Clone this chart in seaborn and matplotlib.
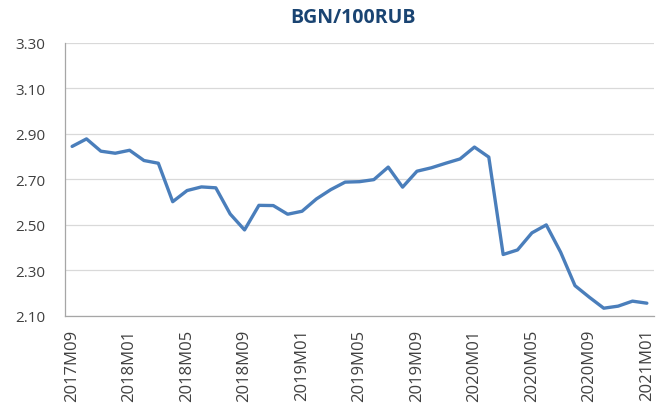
import matplotlib
matplotlib.use("Agg")
import matplotlib.pyplot as plt
import numpy as np
import pandas as pd
import seaborn as sns

# Monthly BGN per 100 RUB, 2017M09 .. 2021M01
months = [
    "2017M09", "2017M10", "2017M11", "2017M12",
    "2018M01", "2018M02", "2018M03", "2018M04", "2018M05", "2018M06",
    "2018M07", "2018M08", "2018M09", "2018M10", "2018M11", "2018M12",
    "2019M01", "2019M02", "2019M03", "2019M04", "2019M05", "2019M06",
    "2019M07", "2019M08", "2019M09", "2019M10", "2019M11", "2019M12",
    "2020M01", "2020M02", "2020M03", "2020M04", "2020M05", "2020M06",
    "2020M07", "2020M08", "2020M09", "2020M10", "2020M11", "2020M12",
    "2021M01",
]
rate = [
    2.845, 2.878, 2.824, 2.815,
    2.828, 2.783, 2.771, 2.602, 2.651, 2.667,
    2.663, 2.548, 2.478, 2.586, 2.585, 2.547,
    2.560, 2.614, 2.655, 2.688, 2.690, 2.699,
    2.754, 2.666, 2.736, 2.751, 2.771, 2.790,
    2.842, 2.798, 2.370, 2.390, 2.465, 2.500,
    2.380, 2.233, 2.182, 2.134, 2.143, 2.165,
    2.156,
]
y_ticks = [2.10, 2.30, 2.50, 2.70, 2.90, 3.10, 3.30]
title = "BGN/100RUB"

sns.set_style("white")
plt.rcParams["font.family"] = ["Open Sans", "DejaVu Sans"]

df = pd.DataFrame({"pos": np.arange(len(months)), "month": months, "rate": rate})

fig = plt.figure(figsize=(6.56, 4.10), dpi=100)
ax = fig.add_axes([0.099, 0.227, 0.898, 0.666])

sns.lineplot(data=df, x="pos", y="rate", ax=ax, color="#4A7EBB",
             linewidth=2.4, zorder=3)

ax.set_xlim(-0.5, len(months) - 0.5)
ax.set_ylim(y_ticks[0], y_ticks[-1])
ax.set_yticks(y_ticks)
ax.set_yticklabels([f"{v:.2f}" for v in y_ticks])

label_pos = list(range(0, len(months), 4))
ax.set_xticks(label_pos)
ax.set_xticklabels([months[i] for i in label_pos], rotation=90)
ax.set_xticks(np.arange(-0.5, len(months)), minor=True)
ax.tick_params(axis="x", which="major", length=0, pad=9, labelsize=12)
ax.tick_params(axis="x", which="minor", length=5, color="#A6A6A6", width=0.8)
ax.tick_params(axis="y", length=6, color="#A6A6A6", width=0.8, pad=8,
               labelsize=11)
ax.tick_params(labelcolor="#404040")

ax.grid(axis="y", color="#D9D9D9", linewidth=0.9, zorder=0)
ax.grid(axis="x", visible=False)
for s in ["top", "right"]:
    ax.spines[s].set_visible(False)
for s in ["left", "bottom"]:
    ax.spines[s].set_color("#A6A6A6")
    ax.spines[s].set_linewidth(0.9)

ax.set_xlabel("")
ax.set_ylabel("")
fig.text(0.538, 0.955, title, ha="center", va="center", fontsize=14,
         fontweight="bold", color="#1A4472")

fig.savefig("out.png", dpi=100)
